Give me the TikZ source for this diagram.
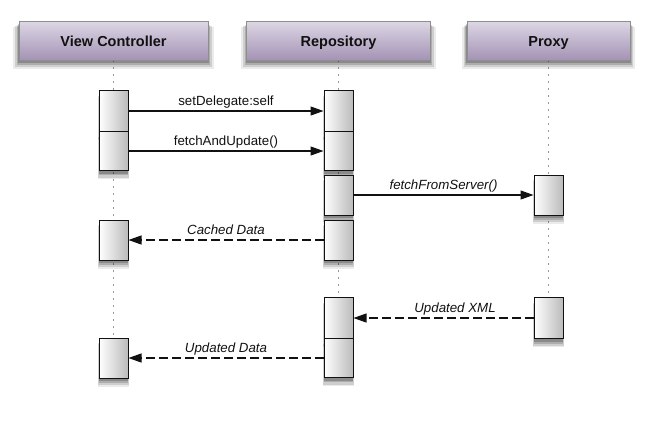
\documentclass[tikz,border=0pt]{standalone}
\usepackage{fontspec}
\setmainfont{Liberation Sans}
\usetikzlibrary{arrows.meta,shadows,backgrounds}
\definecolor{headtop}{HTML}{DDD7E5}
\definecolor{headbot}{HTML}{A493B5}
\definecolor{headline}{HTML}{8E8E8E}
\definecolor{actright}{HTML}{BBBBBB}
\definecolor{ink}{HTML}{111111}
\tikzset{
  >={Triangle[length=13pt,width=9pt]},
  every node/.style={text=ink},
  soft/.style={drop shadow={shadow xshift=0pt,shadow yshift=-7pt,shadow scale=1.06,opacity=0.08,fill=black},
    drop shadow={shadow xshift=0pt,shadow yshift=-6pt,shadow scale=1.04,opacity=0.12,fill=black},
    drop shadow={shadow xshift=0pt,shadow yshift=-4.5pt,shadow scale=1.02,opacity=0.16,fill=black},
    drop shadow={shadow xshift=0pt,shadow yshift=-3pt,shadow scale=1.01,opacity=0.2,fill=black}},
  head/.style={soft,draw=headline,line width=0.8pt,top color=headtop,bottom color=headbot,minimum height=39pt,
    font=\fontsize{14.5}{16}\selectfont\bfseries,text height=11pt,text depth=0pt},
  act/.style={soft,draw=ink,line width=1pt,left color=white,right color=actright,minimum width=29pt,inner sep=0pt},
  call/.style={->,draw=ink,line width=1.2pt},
  reply/.style={->,draw=ink,line width=1.2pt,dash pattern=on 9pt off 4pt},
  life/.style={draw=black!40,line width=0.8pt,dash pattern=on 1.5pt off 5.5pt},
  msg/.style={font=\fontsize{13.3}{15}\selectfont,above=1.5pt,inner sep=1pt,text depth=2.5pt},
  imsg/.style={msg,font=\fontsize{13.3}{15}\selectfont\itshape},
}

\begin{document}
\begin{tikzpicture}[x=1pt,y=-1pt]
  \useasboundingbox (0,0) rectangle (645,424);

  \node[head,minimum width=189pt] (vc) at (113.5,40.5) {View Controller};
  \node[head,minimum width=184pt] (rp) at (338.5,40.5) {Repository};
  \node[head,minimum width=163pt] (px) at (548.5,40.5) {Proxy};

  \node[act,minimum height=41pt] (a1) at (113.5,111) {};
  \node[act,minimum height=39pt] (a2) at (113.5,151) {};
  \node[act,minimum height=40pt] (a3) at (113.5,240) {};
  \node[act,minimum height=40pt] (a4) at (113.5,358) {};

  \node[act,minimum height=41pt] (r1) at (338.5,111) {};
  \node[act,minimum height=39pt] (r2) at (338.5,151) {};
  \node[act,minimum height=40pt] (r3) at (338.5,195) {};
  \node[act,minimum height=40pt] (r4) at (338.5,240) {};
  \node[act,minimum height=41pt] (r5) at (338.5,318) {};
  \node[act,minimum height=39pt] (r6) at (338.5,358) {};

  \node[act,minimum height=40pt] (p1) at (548.5,195) {};
  \node[act,minimum height=41pt] (p2) at (548.5,318) {};

  \begin{scope}[on background layer]
    \draw[life] (vc) -- (a4); \draw[life] (rp) -- (r6); \draw[life] (px) -- (p2);
  \end{scope}

  \draw[call] (a1) -- node[msg] {setDelegate:self} (r1);
  \draw[call] (a2) -- node[msg] {fetchAndUpdate()} (r2);
  \draw[call] (r3) -- node[imsg] {fetchFromServer()} (p1);
  \draw[reply] (r4) -- node[imsg] {Cached Data} (a3);
  \draw[reply] (p2) -- node[imsg,pos=0.436] {Updated XML} (r5);
  \draw[reply] (r6) -- node[imsg] {Updated Data} (a4);
\end{tikzpicture}
\end{document}
